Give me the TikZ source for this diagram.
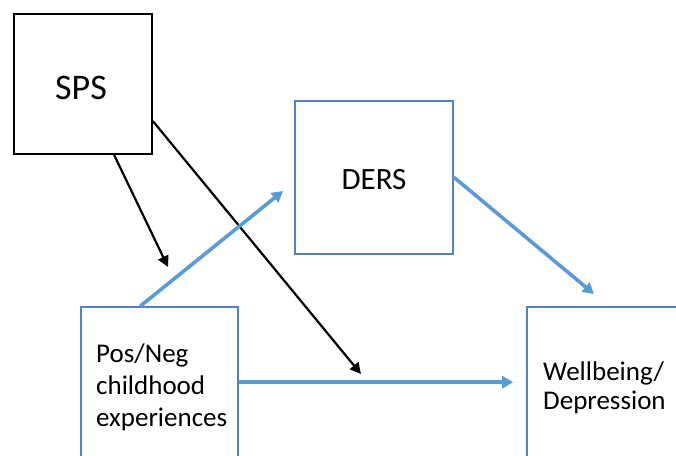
\documentclass[tikz,border=0pt]{standalone}
\usepackage{fontspec}
\setmainfont{Carlito}
\usetikzlibrary{arrows.meta,calc}
\definecolor{boxblue}{RGB}{84,130,192}
\definecolor{arrowblue}{RGB}{91,155,213}
\begin{document}
\begin{tikzpicture}[x=1pt,y=-1pt,
  blackbox/.style={draw=black, line width=1.8pt, fill=white, inner sep=0pt},
  bluebox/.style={draw=boxblue, line width=1.6pt, fill=white, inner sep=0pt},
  label/.style={inner sep=0pt, font=\fontsize{27}{31}\selectfont},
  blackarrow/.style={draw=black, line width=2.2pt, -{Triangle[length=11pt,width=11pt]}},
  bluearrow/.style={draw=arrowblue, line width=3.6pt, -{Triangle[length=11pt,width=12pt]}},
]
\useasboundingbox (0,0) rectangle (676,455);
\clip (0,0) rectangle (676,455);

% boxes (the two lower boxes run past the page edge)
\node[blackbox, minimum width=138pt, minimum height=140pt] (sps) at (83,84) {};
\node[bluebox, minimum width=158pt, minimum height=153pt] (ders) at (374,177.5) {};
\node[bluebox, minimum width=157pt, minimum height=173pt] (posneg) at (159.5,393.5) {};
\node[bluebox, minimum width=173pt, minimum height=173pt] (well) at (613.5,393.5) {};

% labels (multi-line labels are placed by the baseline of their last line)
\node[inner sep=0pt, font=\fontsize{36}{43}\selectfont] (spstext) at (81,88) {SPS};
\node[inner sep=0pt, font=\fontsize{31}{37}\selectfont] (derstext) at (374,180) {DERS};
\node[label, align=left, anchor=base west, font=\fontsize{27}{32}\selectfont] (posnegtext) at (96,426)
  {Pos/Neg\\childhood\\experiences};
\node[label, align=left, anchor=base west, font=\fontsize{27}{29}\selectfont] (welltext) at (543,409)
  {Wellbeing/\\Depression};

% end points of the connectors
\coordinate (tipA) at (168,267);
\coordinate (tipB) at (361,374);
\coordinate (tipC) at (283,191);
\coordinate (tipD) at (594,294);

% connectors
\draw[blackarrow] ($(sps.south west)+(101,0)$) -- (tipA);
\draw[blackarrow] ($(sps.north east)+(0,108)$) -- (tipB);
\draw[bluearrow] ($(posneg.north west)+(60,0)$) -- (tipC);
\draw[bluearrow] ($(ders.north east)+(0,77)$) -- (tipD);
\draw[bluearrow] ($(posneg.north east)+(0,76)$) -- ($(well.north west)+(-13,76)$);
\end{tikzpicture}
\end{document}
